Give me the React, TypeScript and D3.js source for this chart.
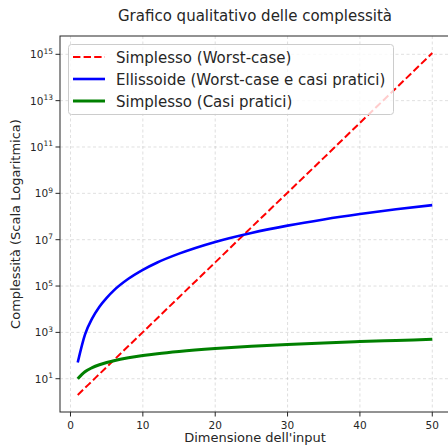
import React, { useEffect, useRef } from "react";
import * as d3 from "d3";

// Input sizes and readings of each curve
const dims = [1, 2, 3, 4, 5, 6, 8, 10, 12, 15, 20, 25, 30, 35, 40, 45, 50];
const simplexWorst = [2, 4, 8, 16, 32, 64, 256, 1024, 4096, 3.3e4, 1.05e6, 3.4e7, 1.07e9, 3.4e10, 1.1e12, 3.5e13, 1.13e15];
const ellipsoid = [50, 800, 4000, 1.28e4, 3.1e4, 6.5e4, 2.05e5, 5e5, 1.04e6, 2.5e6, 8e6, 1.95e7, 4.05e7, 7.5e7, 1.28e8, 2.05e8, 3.1e8];
const simplexPractical = [10, 20, 30, 40, 50, 60, 80, 100, 120, 150, 200, 250, 300, 350, 400, 450, 500];

const xTicks = [0, 10, 20, 30, 40, 50];
const yTickExps = [1, 3, 5, 7, 9, 11, 13, 15];

const series = [
  { label: "Simplesso (Worst-case)", values: simplexWorst, color: "#ff0000", width: 2, dash: "7.4,3.2" },
  { label: "Ellissoide (Worst-case e casi pratici)", values: ellipsoid, color: "#0000ff", width: 2.6, dash: null },
  { label: "Simplesso (Casi pratici)", values: simplexPractical, color: "#008000", width: 3, dash: null },
];

const W = 448;
const H = 446;
const font = "DejaVu Sans, sans-serif";

const App = () => {
  const svgRef = useRef(null);

  useEffect(() => {
    const root = d3.select(svgRef.current);
    root.selectAll("*").remove();

    const left = 60;
    const right = 450;
    const top = 36;
    const bottom = 412;

    const x = d3.scaleLinear().domain([-1.45, 52.45]).range([left, right]);
    const y = d3.scaleLog().domain([Math.pow(10, -0.436), Math.pow(10, 15.79)]).range([bottom, top]);

    const svg = root.attr("width", W).attr("height", H);

    svg.append("rect").attr("width", W).attr("height", H).attr("fill", "#fff");

    // Grid
    const grid = svg.append("g").attr("stroke", "#b0b0b0").attr("stroke-opacity", 0.5).attr("stroke-width", 0.8).attr("stroke-dasharray", "3,2.5");
    xTicks.forEach((t) => {
      grid.append("line").attr("x1", x(t)).attr("x2", x(t)).attr("y1", top).attr("y2", bottom);
    });
    yTickExps.forEach((e) => {
      grid.append("line").attr("x1", left).attr("x2", right).attr("y1", y(Math.pow(10, e))).attr("y2", y(Math.pow(10, e)));
    });

    // Lines
    const clip = svg.append("defs").append("clipPath").attr("id", "plotclip");
    clip.append("rect").attr("x", left).attr("y", top).attr("width", right - left).attr("height", bottom - top);
    const plot = svg.append("g").attr("clip-path", "url(#plotclip)");

    series.forEach((s) => {
      const line = d3
        .line<number>()
        .x((_, i) => x(dims[i]))
        .y((d) => y(d))
        .curve(d3.curveMonotoneX);
      plot
        .append("path")
        .attr("d", line(s.values))
        .attr("fill", "none")
        .attr("stroke", s.color)
        .attr("stroke-width", s.width)
        .attr("stroke-dasharray", s.dash)
        .attr("stroke-linecap", "butt");
    });

    // Spines
    const spines = svg.append("g").attr("stroke", "#262626").attr("stroke-width", 1).attr("fill", "none");
    spines.append("rect").attr("x", left).attr("y", top).attr("width", right - left).attr("height", bottom - top);

    // X axis ticks
    const xAxis = svg.append("g").attr("font-family", font).attr("font-size", 10.5).attr("fill", "#262626");
    xTicks.forEach((t) => {
      xAxis.append("line").attr("x1", x(t)).attr("x2", x(t)).attr("y1", bottom).attr("y2", bottom + 4.5).attr("stroke", "#262626");
      xAxis.append("text").attr("x", x(t)).attr("y", bottom + 17).attr("text-anchor", "middle").text(t);
    });

    // Y axis ticks
    const yAxis = svg.append("g").attr("font-family", font).attr("fill", "#262626");
    yTickExps.forEach((e) => {
      const py = y(Math.pow(10, e));
      yAxis.append("line").attr("x1", left - 4.5).attr("x2", left).attr("y1", py).attr("y2", py).attr("stroke", "#262626");
      const txt = yAxis.append("text").attr("x", left - 7).attr("y", py + 4).attr("text-anchor", "end").attr("font-size", 10.5);
      txt.append("tspan").text("10");
      txt.append("tspan").attr("font-size", 7.5).attr("dy", -4.5).text(e);
    });

    // Labels
    svg.append("text").attr("x", 255).attr("y", 21).attr("text-anchor", "middle").attr("font-family", font).attr("font-size", 15).attr("fill", "#262626").text("Grafico qualitativo delle complessità");
    svg.append("text").attr("x", 255).attr("y", 442).attr("text-anchor", "middle").attr("font-family", font).attr("font-size", 13).attr("fill", "#262626").text("Dimensione dell'input");
    svg
      .append("text")
      .attr("transform", `translate(20, ${(top + bottom) / 2}) rotate(-90)`)
      .attr("text-anchor", "middle")
      .attr("font-family", font)
      .attr("font-size", 13)
      .attr("fill", "#262626")
      .text("Complessità (Scala Logaritmica)");

    // Legend
    const legend = svg.append("g");
    legend.append("rect").attr("x", 68.5).attr("y", 44.5).attr("width", 325).attr("height", 70).attr("rx", 3).attr("fill", "#fff").attr("fill-opacity", 0.8).attr("stroke", "#cccccc");
    series.forEach((s, i) => {
      const cy = 57 + i * 22;
      legend.append("line").attr("x1", 73).attr("x2", 105).attr("y1", cy).attr("y2", cy).attr("stroke", s.color).attr("stroke-width", s.width).attr("stroke-dasharray", s.dash);
      legend.append("text").attr("x", 116).attr("y", cy + 5.5).attr("font-family", font).attr("font-size", 15).attr("fill", "#262626").text(s.label);
    });
  }, []);

  return <svg ref={svgRef} style={{ position: "absolute", left: 0, top: 0 }} />;
};

export default App;
